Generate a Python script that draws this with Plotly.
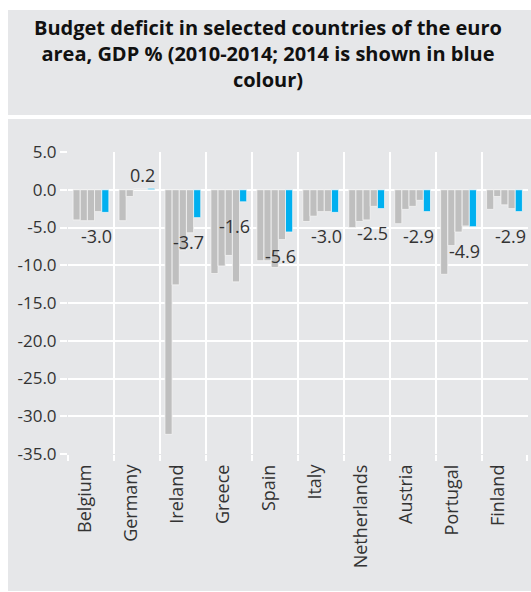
import plotly.graph_objects as go

countries = ["Belgium", "Germany", "Ireland", "Greece", "Spain",
             "Italy", "Netherlands", "Austria", "Portugal", "Finland"]
years = ["2010", "2011", "2012", "2013", "2014"]
y2010 = [-4.0, -4.1, -32.4, -11.1, -9.4, -4.2, -5.0, -4.5, -11.2, -2.6]
y2011 = [-4.1, -0.9, -12.6, -10.1, -9.4, -3.5, -4.2, -2.6, -7.4, -0.9]
y2012 = [-4.1, 0.1, -8.0, -8.7, -10.3, -2.9, -4.0, -2.2, -5.6, -2.0]
y2013 = [-2.9, 0.1, -5.7, -12.2, -6.6, -2.9, -2.2, -1.4, -4.8, -2.5]
y2014 = [-3.0, 0.2, -3.7, -1.6, -5.6, -3.0, -2.5, -2.9, -4.9, -2.9]
ytick_vals = [5, 0, -5, -10, -15, -20, -25, -30, -35]
title_lines = ["Budget deficit in selected countries of the euro",
               "area, GDP % (2010-2014; 2014 is shown in blue",
               "colour)"]

W, H = 531, 592
PL, PR, PT, PB = 68, 528, 152, 454
FONT = "Open Sans"
GRAY = "#bfbfbf"
BLUE = "#00b0f0"
PANEL = "#e6e7e9"
TXT = "#333333"


def px_x(px):
    return (px - PL) / (PR - PL)


def px_y(py):
    return (PB - py) / (PB - PT)


def rect(x0, y0, x1, y1):
    return dict(type="rect", xref="paper", yref="paper", layer="below",
                x0=px_x(x0), x1=px_x(x1), y0=px_y(y1), y1=px_y(y0),
                fillcolor=PANEL, line=dict(width=0))


fig = go.Figure()
for yr, vals in zip(years, [y2010, y2011, y2012, y2013, y2014]):
    fig.add_trace(go.Bar(
        x=countries, y=vals, name=yr,
        marker=dict(color=BLUE if yr == "2014" else GRAY,
                    line=dict(color="#f4f4f4", width=0.8)),
        hoverinfo="x+y+name",
    ))

shapes = [
    rect(8, 10, 531, 115),          # title panel
    rect(8, 119, 531, PT),          # chart panel: top strip
    rect(8, PB, 531, 591),          # bottom strip
    rect(8, PT, PL, PB),            # left strip
    rect(PR, PT, 531, PB),          # right strip
]

annotations = [dict(
    xref="paper", yref="paper", x=px_x(268), y=px_y(53),
    xanchor="center", yanchor="middle", showarrow=False,
    text="<br>".join("<b>" + line + "</b>" for line in title_lines),
    font=dict(family=FONT, size=20, color="#111111"), align="center",
)]
for c, v in zip(countries, y2014):
    annotations.append(dict(
        x=c, y=v, xref="x", yref="y", showarrow=False,
        text=f"{v:.1f}", xanchor="center", yanchor="middle",
        xshift=6, yshift=(-24 if v < 0 else 13),
        font=dict(family=FONT, size=18, color=TXT),
    ))

fig.update_layout(
    width=W, height=H,
    margin=dict(l=PL, r=W - PR, t=PT, b=H - PB, pad=0),
    paper_bgcolor="white", plot_bgcolor=PANEL,
    barmode="group", bargap=0.22, bargroupgap=0.0,
    showlegend=False,
    shapes=shapes, annotations=annotations,
    font=dict(family=FONT, color=TXT),
)
fig.update_xaxes(
    type="category", tickson="boundaries", ticks="outside", ticklen=6,
    tickcolor="white", tickwidth=1.5, showgrid=True, gridcolor="white",
    gridwidth=1.5, tickangle=-90, tickfont=dict(family=FONT, size=18, color=TXT),
    ticklabelstandoff=6, ticklabelshift=-6,
    showline=False, zeroline=False,
)
fig.update_yaxes(
    range=[-35, 5], tickvals=ytick_vals, ticktext=[f"{v:.1f}" for v in ytick_vals],
    ticks="outside", ticklen=7, tickcolor="white", tickwidth=1.5,
    showgrid=True, gridcolor="white", gridwidth=1.5, zeroline=False,
    tickfont=dict(family=FONT, size=17, color=TXT), showline=False,
)

fig.write_html(
    "out.html",
    config={"displayModeBar": False},
    post_script="document.body.style.margin='0';document.body.style.overflow='hidden';",
)
